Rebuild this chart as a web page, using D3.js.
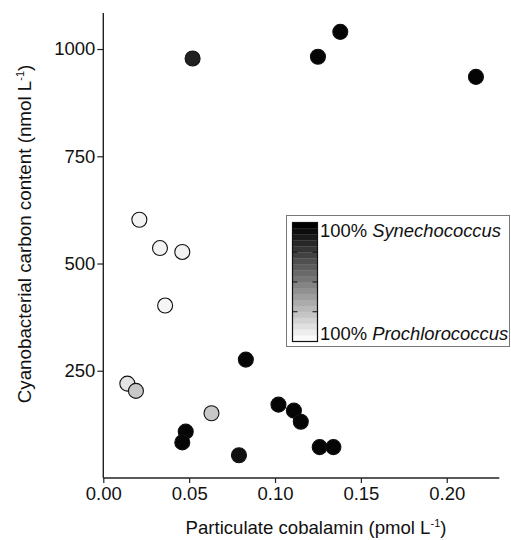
<!DOCTYPE html>
<html>
<head>
<meta charset="utf-8">
<script src="https://cdn.jsdelivr.net/npm/d3@7"></script>
<style>
  html, body { margin: 0; padding: 0; background: #fff; }
  svg { display: block; }
  text { font-family: "Liberation Sans", Arial, Helvetica, sans-serif; fill: #111; }
</style>
</head>
<body>
<svg id="chart" width="511" height="540"></svg>
<script>
// ---- data ----
const cobalamin = [0.052, 0.138, 0.125, 0.217, 0.021, 0.033, 0.046, 0.036, 0.083, 0.014,
                   0.019, 0.063, 0.048, 0.046, 0.079, 0.102, 0.111, 0.115, 0.126, 0.134];
const carbon    = [978, 1040, 982, 935, 602, 536, 527, 402, 276, 220,
                   203, 151, 108, 83, 53, 171, 157, 131, 72, 72];
const synPercent = [87, 98, 98, 98, 3, 3, 3, 2, 98, 9,
                    20, 20, 98, 98, 93, 98, 98, 98, 98, 98];
const xTicks = [0.00, 0.05, 0.10, 0.15, 0.20];
const yTicks = [250, 500, 750, 1000];
const legendLabels = ["Synechococcus", "Prochlorococcus"];
const legendSteps = d3.range(20);

const svg = d3.select("#chart");
const x = d3.scaleLinear().domain([0, 0.2306]).range([103.3, 499.3]);
const y = d3.scaleLinear().domain([0, 1084]).range([478, 13]);
const grey = f => { const g = Math.round(250 * (1 - f)); return `rgb(${g},${g},${g})`; };

// axes
const xAxis = d3.axisBottom(x).tickValues(xTicks).tickFormat(d3.format(".2f")).tickSize(5).tickPadding(4);
const yAxis = d3.axisLeft(y).tickValues(yTicks).tickFormat(d3.format("d")).tickSize(6).tickPadding(2);

const gx = svg.append("g").attr("transform", `translate(0,${y(0)})`).call(xAxis);
const gy = svg.append("g").attr("transform", `translate(${x(0)},0)`).call(yAxis);
[gx, gy].forEach(g => {
  g.select(".domain").attr("stroke", "#222").attr("stroke-width", 1.4);
  g.selectAll(".tick line").attr("stroke", "#222").attr("stroke-width", 1.2);
  g.selectAll(".tick text").attr("font-size", 18.5).attr("fill", "#111")
    .style("font-family", '"Liberation Sans", Arial, sans-serif');
});
gx.select(".domain").attr("d", `M${x(0)},0H${x(0.2306)}`);
gy.select(".domain").attr("d", `M0,${y(1084)}V${y(0)}`);

// points
const pts = cobalamin.map((c, i) => ({x: c, y: carbon[i], f: synPercent[i] / 100}));
svg.append("g").selectAll("circle").data(pts).join("circle")
  .attr("cx", d => x(d.x)).attr("cy", d => y(d.y)).attr("r", 7.5)
  .attr("fill", d => grey(d.f)).attr("stroke", "#111").attr("stroke-width", 1.1);

// axis titles
const xt = svg.append("text").attr("x", 316).attr("y", 534).attr("text-anchor", "middle").attr("font-size", 18.6);
xt.append("tspan").text("Particulate cobalamin (pmol L");
xt.append("tspan").attr("font-size", 11).attr("dy", -7).text("-1");
xt.append("tspan").attr("dy", 7).text(")");

const yt = svg.append("text").attr("transform", "translate(31,234) rotate(-90)")
  .attr("text-anchor", "middle").attr("font-size", 18.8);
yt.append("tspan").text("Cyanobacterial carbon content (nmol L");
yt.append("tspan").attr("font-size", 11).attr("dy", -7).text("-1");
yt.append("tspan").attr("dy", 7).text(")");

// legend
const lg = svg.append("g");
lg.append("rect").attr("x", 286.5).attr("y", 215.5).attr("width", 223).attr("height", 131)
  .attr("fill", "#fff").attr("stroke", "#777").attr("stroke-width", 1);
const barTop = 222.5, barBot = 341.5, barX = 292.5, barW = 25;
const bandH = (barBot - barTop) / legendSteps.length;
lg.selectAll("rect.band").data(legendSteps).join("rect").attr("class", "band")
  .attr("x", barX).attr("width", barW)
  .attr("y", i => barTop + i * bandH).attr("height", bandH + 0.3)
  .attr("fill", i => grey(1 - i / (legendSteps.length - 1)));
lg.append("rect").attr("x", barX).attr("y", barTop).attr("width", barW).attr("height", barBot - barTop)
  .attr("fill", "none").attr("stroke", "#111").attr("stroke-width", 1.2);
[0.25, 0.5, 0.75].forEach(q => {
  const yy = barTop + q * (barBot - barTop);
  lg.append("line").attr("x1", barX).attr("x2", barX + 5).attr("y1", yy).attr("y2", yy).attr("stroke", "#111");
  lg.append("line").attr("x1", barX + barW - 5).attr("x2", barX + barW).attr("y1", yy).attr("y2", yy).attr("stroke", "#111");
});
const l1 = lg.append("text").attr("x", 320).attr("y", 237).attr("font-size", 18.4);
l1.append("tspan").text("100% ");
l1.append("tspan").attr("font-style", "italic").text(legendLabels[0]);
const l2 = lg.append("text").attr("x", 320).attr("y", 340).attr("font-size", 18.4);
l2.append("tspan").text("100% ");
l2.append("tspan").attr("font-style", "italic").text(legendLabels[1]);
</script>
</body>
</html>
